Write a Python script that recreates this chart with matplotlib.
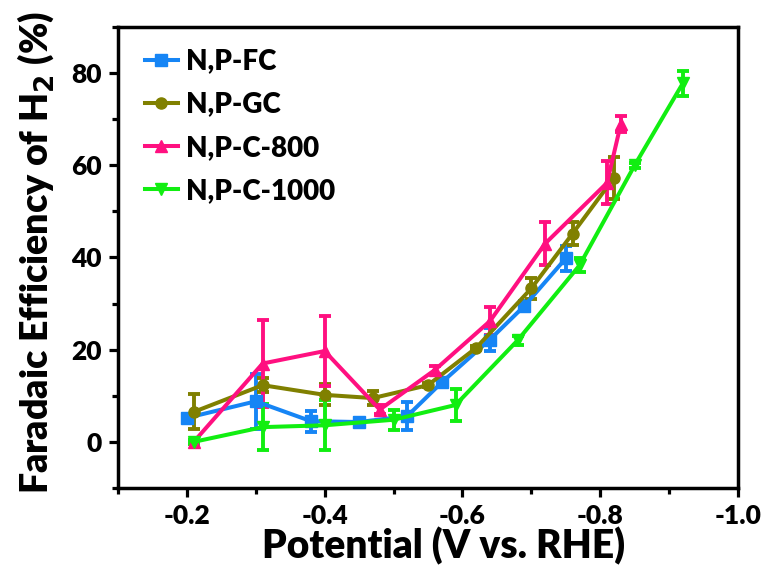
import numpy as np
import matplotlib.pyplot as plt
from matplotlib.ticker import MultipleLocator
from matplotlib.lines import Line2D

plt.rcParams['font.family'] = ['Lato', 'DejaVu Sans']
plt.rcParams['font.weight'] = 'heavy'
plt.rcParams['mathtext.default'] = 'bf'

# Data
fc_x = [-0.20, -0.30, -0.38, -0.45, -0.52, -0.57, -0.64, -0.69, -0.75]
fc_y = [5.2, 8.8, 4.5, 4.3, 5.6, 12.9, 22.2, 29.5, 39.8]
fc_err = [0.8, 6.0, 2.3, 0.8, 3.0, 1.0, 2.5, 1.0, 2.7]

gc_x = [-0.21, -0.31, -0.40, -0.47, -0.55, -0.62, -0.70, -0.76, -0.82]
gc_y = [6.5, 12.3, 10.2, 9.5, 12.3, 20.4, 33.3, 45.2, 57.3]
gc_err = [3.8, 1.5, 2.3, 1.5, 0.5, 0.5, 2.2, 2.5, 4.6]

c800_x = [-0.21, -0.31, -0.40, -0.48, -0.56, -0.64, -0.72, -0.81, -0.83]
c800_y = [0.0, 17.0, 19.7, 7.0, 15.6, 26.2, 43.0, 56.2, 69.0]
c800_err = [0.5, 9.5, 7.5, 1.0, 0.8, 3.0, 4.7, 4.7, 1.7]

c1000_x = [-0.21, -0.31, -0.40, -0.50, -0.59, -0.68, -0.77, -0.85, -0.92]
c1000_y = [0.0, 3.2, 3.6, 4.8, 8.0, 22.0, 38.3, 60.0, 77.8]
c1000_err = [0.5, 5.0, 5.4, 2.2, 3.5, 1.0, 1.5, 0.5, 2.7]

labels = ['N,P-FC', 'N,P-GC', 'N,P-C-800', 'N,P-C-1000']
colors = ['#1685F5', '#808000', '#FF1080', '#11EE11']
markers = ['s', 'o', '^', 'v']

fig = plt.figure(figsize=(7.68, 5.72), dpi=100)
ax = fig.add_axes([0.1536, 0.1469, 0.8073, 0.8059])

series = [(fc_x, fc_y, fc_err), (gc_x, gc_y, gc_err),
          (c800_x, c800_y, c800_err), (c1000_x, c1000_y, c1000_err)]
handles = []
for (x, y, e), lab, col, mk in zip(series, labels, colors, markers):
    ax.errorbar(x, y, yerr=e, color=col, marker=mk, markersize=8, lw=2.9,
                elinewidth=2.8, capsize=4.5, capthick=2.8)
    handles.append(Line2D([], [], color=col, marker=mk, markersize=8, lw=2.9, label=lab))

ax.set_xlim(-0.1, -1.0)
ax.set_ylim(-10, 90)
ax.xaxis.set_minor_locator(MultipleLocator(0.1))
ax.yaxis.set_major_locator(MultipleLocator(20))
ax.yaxis.set_minor_locator(MultipleLocator(10))
ax.set_xticks([-0.2, -0.4, -0.6, -0.8, -1.0])
ax.set_xticklabels(['-0.2', '-0.4', '-0.6', '-0.8', '-1.0'])

for s in ax.spines.values():
    s.set_linewidth(2.5)
ax.tick_params(which='major', direction='out', length=6.5, width=2.3, labelsize=19, pad=5)
ax.tick_params(which='minor', direction='out', length=4, width=2.3)

ax.set_xlabel('Potential (V vs. RHE)', fontsize=28, fontweight='heavy')
ax.set_ylabel('Faradaic Efficiency of H$_2$ (%)', fontsize=27, fontweight='heavy')
ax.xaxis.set_label_coords(0.525, -0.085)
ax.yaxis.set_label_coords(-0.1, 0.51)

leg = ax.legend(handles=handles, loc='upper left', frameon=False,
                handlelength=1.2, handletextpad=0.3, labelspacing=0.62,
                borderaxespad=0.0, bbox_to_anchor=(0.025, 0.978),
                prop={'weight': 'heavy', 'size': 20})

fig.savefig('out.png', dpi=100)
